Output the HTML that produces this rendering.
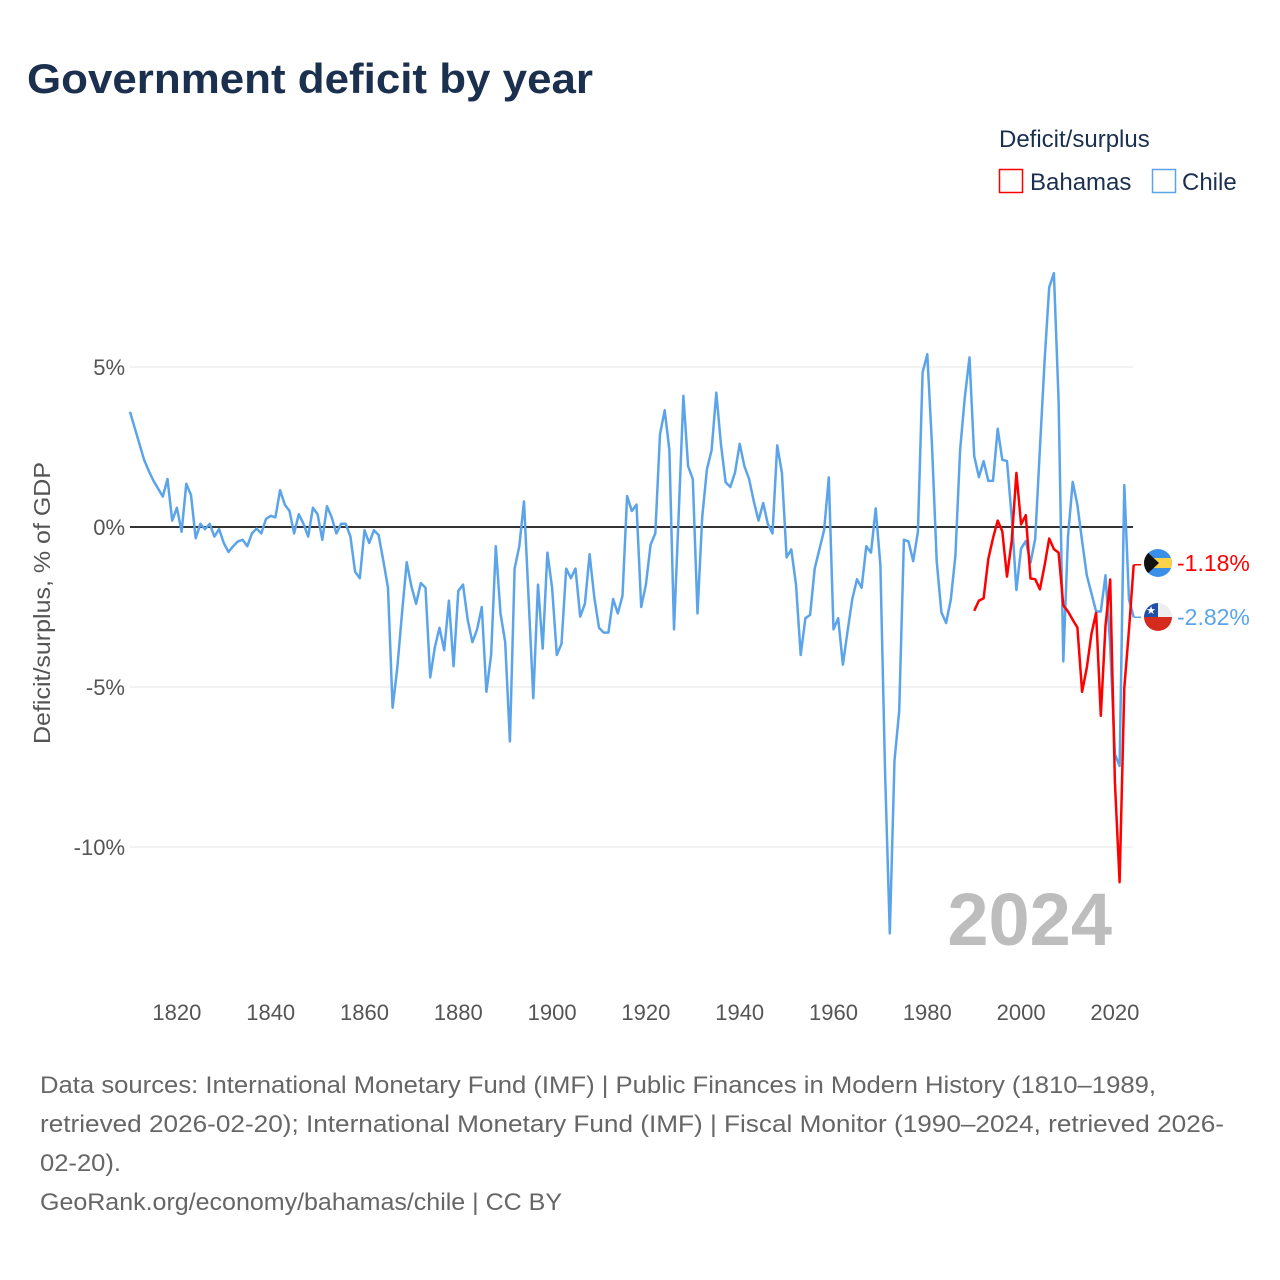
<!DOCTYPE html>
<html><head><meta charset="utf-8">
<style>
body{margin:0;background:#fff;font-family:"Liberation Sans",sans-serif;}
#wrap{position:relative;width:1280px;height:1280px;overflow:hidden;}
</style></head>
<body>
<div id="wrap">
<svg id="chart" width="1280" height="1280" xmlns="http://www.w3.org/2000/svg">
<text x="27" y="93" font-size="42" font-weight="bold" fill="#1b2f4e" textLength="566" lengthAdjust="spacingAndGlyphs">Government deficit by year</text>
<text x="999" y="147" font-size="24" fill="#1b2f4e">Deficit/surplus</text>
<g>
<rect x="999.5" y="169.5" width="23" height="23" fill="none" stroke="#ff0000" stroke-width="1.5"/>
<text x="1030" y="190" font-size="24" fill="#1b2f4e">Bahamas</text>
</g>
<g>
<rect x="1152.5" y="169.5" width="23" height="23" fill="none" stroke="#5ba4ea" stroke-width="1.5"/>
<text x="1182" y="190" font-size="24" fill="#1b2f4e">Chile</text>
</g>
<text transform="translate(50,603) rotate(-90)" text-anchor="middle" font-size="23" fill="#555" textLength="282" lengthAdjust="spacingAndGlyphs">Deficit/surplus, % of GDP</text>
<g id="grid"></g>
<text x="1112" y="945" text-anchor="end" font-size="74" font-weight="bold" fill="#bdbdbd">2024</text>
<g id="series"></g>
<g id="ends"></g>
<g font-size="24" fill="#666">
<text x="40" y="1093" textLength="1116" lengthAdjust="spacingAndGlyphs">Data sources: International Monetary Fund (IMF) | Public Finances in Modern History (1810–1989,</text>
<text x="40" y="1132" textLength="1184" lengthAdjust="spacingAndGlyphs">retrieved 2026-02-20); International Monetary Fund (IMF) | Fiscal Monitor (1990–2024, retrieved 2026-</text>
<text x="40" y="1171" textLength="81" lengthAdjust="spacingAndGlyphs">02-20).</text>
<text x="40" y="1210" textLength="522" lengthAdjust="spacingAndGlyphs">GeoRank.org/economy/bahamas/chile | CC BY</text>
</g>
</svg>
</div>
<script>
const chileStart = 1810;
const chileValues = [3.6,3.1,2.6,2.1,1.75,1.45,1.2,0.95,1.5,0.2,0.6,-0.15,1.35,1.0,-0.35,0.1,-0.07,0.1,-0.3,-0.07,
-0.5,-0.78,-0.6,-0.45,-0.4,-0.6,-0.2,-0.05,-0.2,0.25,0.35,0.3,1.15,0.7,0.5,-0.2,0.4,0.1,-0.3,0.6,
0.4,-0.4,0.65,0.3,-0.2,0.1,0.1,-0.3,-1.4,-1.6,-0.1,-0.5,-0.1,-0.25,-1.05,-1.9,-5.65,-4.4,-2.7,-1.1,
-1.85,-2.4,-1.75,-1.9,-4.7,-3.75,-3.15,-3.85,-2.3,-4.35,-2.0,-1.8,-2.9,-3.6,-3.2,-2.5,-5.15,-4.0,-0.6,-2.7,
-3.6,-6.7,-1.3,-0.6,0.8,-2.3,-5.35,-1.8,-3.8,-0.8,-1.9,-4.0,-3.65,-1.3,-1.6,-1.3,-2.8,-2.4,-0.85,-2.2,
-3.15,-3.3,-3.3,-2.25,-2.7,-2.15,0.97,0.5,0.7,-2.5,-1.8,-0.55,-0.2,2.9,3.65,2.4,-3.2,0.4,4.1,1.9,
1.5,-2.7,0.3,1.8,2.4,4.2,2.6,1.4,1.25,1.7,2.6,1.9,1.5,0.8,0.2,0.75,0.1,-0.2,2.55,1.7,
-0.95,-0.7,-1.8,-4.0,-2.85,-2.75,-1.3,-0.7,-0.1,1.55,-3.2,-2.85,-4.3,-3.25,-2.25,-1.63,-1.9,-0.6,-0.8,0.58,
-1.2,-7.7,-12.7,-7.3,-5.75,-0.4,-0.45,-1.07,-0.15,4.83,5.4,2.55,-1.07,-2.67,-3.0,-2.27,-0.9,2.4,4.05,5.3,
2.22,1.56,2.06,1.44,1.44,3.07,2.1,2.06,0.3,-1.97,-0.67,-0.44,-1.12,-0.37,2.44,5.2,7.49,7.93,3.95,-4.2,
-0.3,1.41,0.69,-0.44,-1.51,-2.08,-2.64,-2.64,-1.51,-3.71,-7.1,-7.47,1.31,-2.27,-2.82];
const bahamasStart = 1990;
const bahamasValues = [-2.62,-2.3,-2.23,-1.0,-0.35,0.2,-0.13,-1.55,-0.44,1.69,0.08,0.37,-1.61,-1.63,-1.95,-1.2,-0.36,-0.69,-0.8,-2.45,
-2.64,-2.9,-3.14,-5.15,-4.4,-3.33,-2.68,-5.9,-3.08,-1.64,-7.97,-11.1,-5.03,-3.2,-1.18];
const yTicks = [5,0,-5,-10];
const yTickLabels = ["5%","0%","-5%","-10%"];
const xTicks = [1820,1840,1860,1880,1900,1920,1940,1960,1980,2000,2020];

const NS="http://www.w3.org/2000/svg";
const X0=130, X1=1133;
function xs(yr){return 130 + (yr-1810)*4.69;}
function ys(v){return 527 - v*32;}
function mk(tag,attrs,parent){const e=document.createElementNS(NS,tag);for(const k in attrs)e.setAttribute(k,attrs[k]);parent.appendChild(e);return e;}

const grid=document.getElementById('grid');
yTicks.forEach((t,i)=>{
  const l=mk('line',{x1:X0,x2:X1,y1:ys(t),y2:ys(t),stroke:t===0?'#333':'#e6e6e6','stroke-width':t===0?2:1},grid);
  
  
  const tx=mk('text',{x:125,y:ys(t)+8,'text-anchor':'end','font-size':22,fill:'#555'},grid);
  tx.textContent=yTickLabels[i];
  
  
});
xTicks.forEach(t=>{
  const tx=mk('text',{x:xs(t),y:1020,'text-anchor':'middle','font-size':22,fill:'#555'},grid);
  tx.textContent=t;
  
  
});

const series=document.getElementById('series');
function line(start,vals,color,name){
  const d=vals.map((v,i)=>(i?'L':'M')+xs(start+i).toFixed(1)+','+ys(v).toFixed(1)).join('');
  const p=mk('path',{d:d,fill:'none',stroke:color,'stroke-width':2.5,'stroke-linejoin':'round'},series);
  
  
}
line(chileStart,chileValues,'#5ba4ea','line-chile');
line(bahamasStart,bahamasValues,'#ff0000','line-bahamas');

const ends=document.getElementById('ends');
function endLabel(start,vals,color,ly,name,flag){
  const last=vals[vals.length-1], xe=xs(start+vals.length-1);
  const p=mk('path',{d:`M${xe},${ys(last)}H1141`,fill:'none',stroke:color,'stroke-width':1.5},ends);
  
  
  const g=mk('g',{},ends);
  
  
  flag(g,1158,ly);
  const t=mk('text',{x:1177,y:ly+8,'font-size':23,fill:color},ends);
  t.textContent=last.toFixed(2)+'%';
  
  
}
function bahamasFlag(g,cx,cy){
  const cp=mk('clipPath',{id:'cb'},g);mk('circle',{cx:cx,cy:cy,r:14},cp);
  const h=mk('g',{'clip-path':'url(#cb)'},g);
  mk('rect',{x:cx-14,y:cy-14,width:28,height:28,fill:'#3a8fe8'},h);
  mk('rect',{x:cx-14,y:cy-5,width:28,height:10,fill:'#fcd24a'},h);
  mk('path',{d:`M${cx-14},${cy-14}L${cx+1},${cy}L${cx-14},${cy+14}Z`,fill:'#111'},h);
}
function chileFlag(g,cx,cy){
  const cp=mk('clipPath',{id:'cc'},g);mk('circle',{cx:cx,cy:cy,r:14},cp);
  const h=mk('g',{'clip-path':'url(#cc)'},g);
  mk('rect',{x:cx-14,y:cy-14,width:28,height:14,fill:'#eeeeee'},h);
  mk('rect',{x:cx-14,y:cy,width:28,height:14,fill:'#d52b1e'},h);
  mk('rect',{x:cx-14,y:cy-14,width:14,height:14,fill:'#1f4fa8'},h);
  const s=mk('text',{x:cx-7,y:cy-3,'text-anchor':'middle','font-size':11,fill:'#fff'},h);s.textContent='★';
}
endLabel(bahamasStart,bahamasValues,'#ff0000',563,'bahamas',bahamasFlag);
endLabel(chileStart,chileValues,'#5ba4ea',617,'chile',chileFlag);
</script>
</body></html>
